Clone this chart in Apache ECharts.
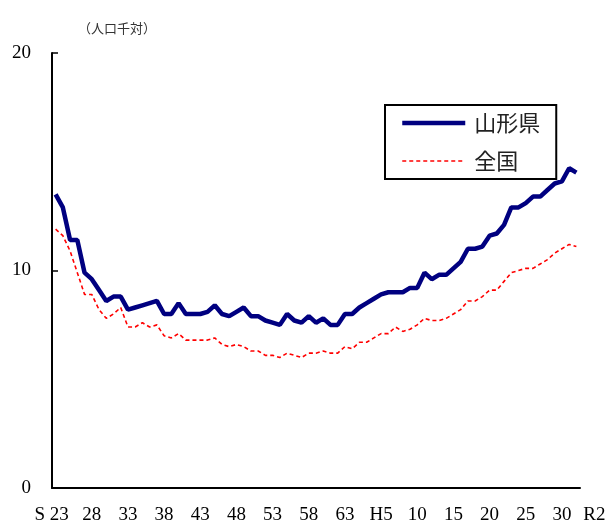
<!DOCTYPE html>
<html>
<head>
<meta charset="utf-8">
<script src="https://cdn.jsdelivr.net/npm/echarts@6/dist/echarts.min.js"></script>
<style>html,body{margin:0;padding:0;background:#fff}#c{width:611px;height:525px}</style>
</head>
<body>
<div id="c"></div>
<script>
// categories: S23 (1948) .. R2 (2020)
const categories = [
  "S23","24","25","26","27","28","29","30","31","32",
  "33","34","35","36","37","38","39","40","41","42",
  "43","44","45","46","47","48","49","50","51","52",
  "53","54","55","56","57","58","59","60","61","62",
  "63","H1","2","3","4","H5","6","7","8","9",
  "10","11","12","13","14","15","16","17","18","19",
  "20","21","22","23","24","25","26","27","28","29",
  "30","R1","R2"
];
const yamagata = [
  13.5,12.9,11.4,11.4,9.9,9.6,9.1,8.6,8.8,8.8,
  8.2,8.3,8.4,8.5,8.6,8.0,8.0,8.5,8.0,8.0,
  8.0,8.1,8.4,8.0,7.9,8.1,8.3,7.9,7.9,7.7,
  7.6,7.5,8.0,7.7,7.6,7.9,7.6,7.8,7.5,7.5,
  8.0,8.0,8.3,8.5,8.7,8.9,9.0,9.0,9.0,9.2,
  9.2,9.9,9.6,9.8,9.8,10.1,10.4,11.0,11.0,11.1,
  11.6,11.7,12.1,12.9,12.9,13.1,13.4,13.4,13.7,14.0,
  14.1,14.7,14.5
];
const zenkoku = [
  11.9,11.6,10.9,9.9,8.9,8.9,8.2,7.8,8.0,8.3,
  7.4,7.4,7.6,7.4,7.5,7.0,6.9,7.1,6.8,6.8,
  6.8,6.8,6.9,6.6,6.5,6.6,6.5,6.3,6.3,6.1,
  6.1,6.0,6.2,6.1,6.0,6.2,6.2,6.3,6.2,6.2,
  6.5,6.4,6.7,6.7,6.9,7.1,7.1,7.4,7.2,7.3,
  7.5,7.8,7.7,7.7,7.8,8.0,8.2,8.6,8.6,8.8,
  9.1,9.1,9.5,9.9,10.0,10.1,10.1,10.3,10.5,10.8,
  11.0,11.2,11.1
];
const seriesNames = ["山形県","全国"];
const unitLabel = "（人口千対）";

const chart = echarts.init(document.getElementById('c'), null, {renderer:'canvas'});
const serif = '"Liberation Serif","DejaVu Serif",serif';
const cjk = '"Noto Sans CJK JP","Noto Sans CJK SC",sans-serif';
chart.setOption({
  animation:false,
  backgroundColor:'#fff',
  title:{text:unitLabel,left:73,top:17,textStyle:{fontSize:13,fontWeight:'normal',color:'#333',fontFamily:cjk}},
  grid:{left:52,right:31,top:53,bottom:35,containLabel:false},
  legend:{
    orient:'vertical',left:385,top:105,
    padding:[6,16,6,15],
    borderColor:'#000',borderWidth:2,
    itemWidth:63,itemHeight:14,itemGap:14,
    itemStyle:{opacity:0},
    textStyle:{fontSize:22,color:'#222',fontFamily:cjk,padding:[0,0,0,4],lineHeight:24},
    data:[
      {name:seriesNames[0],lineStyle:{width:4.5,color:'#000080'}},
      {name:seriesNames[1],lineStyle:{width:1.6,color:'#ff0000',type:[4,3]}}
    ]
  },
  xAxis:{
    type:'category',data:categories,boundaryGap:true,
    axisLine:{lineStyle:{color:'#000',width:2}},
    axisTick:{inside:true,length:4,lineStyle:{color:'#000',width:1.5},
      interval:(i)=>i%5===0},
    axisLabel:{
      interval:(i)=>i%5===0||i===categories.length-1,
      margin:18,fontSize:19,color:'#000',fontFamily:serif,
      formatter:(v,i)=>{
        if(i===categories.length-1) return '{r|'+v+'}';
        if(i===0) return '{s|S 23}';
        return v;
      },
      rich:{
        r:{padding:[0,0,0,36],fontSize:19,fontFamily:serif,color:'#000'},
        s:{padding:[0,8,0,0],fontSize:19,fontFamily:serif,color:'#000'}
      }
    },
    splitLine:{show:false}
  },
  yAxis:{
    type:'value',min:0,max:20,interval:10,
    axisLine:{show:true,lineStyle:{color:'#000',width:2}},
    axisTick:{show:true,inside:true,length:6,lineStyle:{color:'#000',width:1.5}},
    axisLabel:{margin:21,fontSize:19,color:'#000',fontFamily:serif},
    splitLine:{show:false}
  },
  series:[
    {name:seriesNames[0],type:'line',data:yamagata,symbol:'none',
     lineStyle:{color:'#000080',width:4.5},itemStyle:{color:'#000080'}},
    {name:seriesNames[1],type:'line',data:zenkoku,symbol:'none',
     lineStyle:{color:'#ff0000',width:1.6,type:[4,3]},itemStyle:{color:'#ff0000'}}
  ]
});
</script>
</body>
</html>
